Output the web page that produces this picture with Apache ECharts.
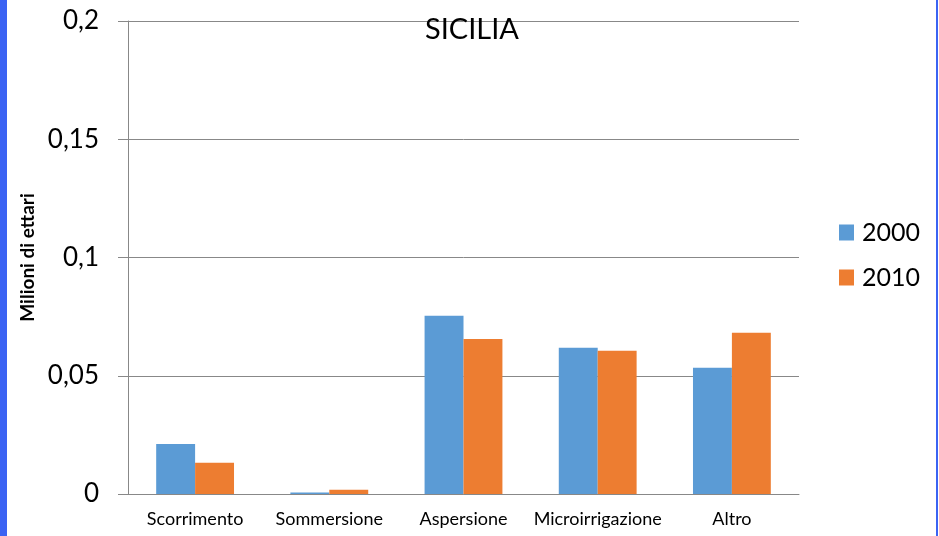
<!DOCTYPE html>
<html>
<head>
<meta charset="utf-8">
<script src="https://cdn.jsdelivr.net/npm/echarts@6/dist/echarts.min.js"></script>
<style>
html,body{margin:0;padding:0;background:#fff;}
#chart{width:939px;height:536px;}
</style>
</head>
<body>
<div id="chart"></div>
<script>
const categories = ['Scorrimento', 'Sommersione', 'Aspersione', 'Microirrigazione', 'Altro'];
const series2000 = [0.0211, 0.0006, 0.0754, 0.0618, 0.0534];
const series2010 = [0.0132, 0.0018, 0.0655, 0.0606, 0.0682];
const seriesNames = ['2000', '2010'];
const yTickLabels = ['0', '0,05', '0,1', '0,15', '0,2'];
const chartTitle = 'SICILIA';
const yAxisTitle = 'Milioni di ettari';

const FONT = 'Lato, "Open Sans", sans-serif';
const chart = echarts.init(document.getElementById('chart'));
chart.setOption({
  animation: false,
  backgroundColor: '#ffffff',
  title: {
    text: chartTitle,
    left: 425, top: 15,
    padding: 0,
    textStyle: {fontFamily: FONT, fontSize: 29, fontWeight: 'normal', color: '#000'}
  },
  graphic: [
    {type: 'rect', left: 0, top: 0, shape: {width: 7, height: 536}, style: {fill: '#3b63f3'}, silent: true},
    {type: 'rect', left: 936, top: 0, shape: {width: 2, height: 536}, style: {fill: '#3b63f3'}, silent: true}
  ],
  legend: {
    orient: 'vertical',
    left: 839, top: 220,
    padding: 0,
    itemWidth: 15, itemHeight: 16,
    itemGap: 20,
    icon: 'rect',
    data: seriesNames,
    textStyle: {fontFamily: FONT, fontSize: 25, color: '#000', padding: [0, 0, 0, 3]}
  },
  grid: {left: 128, right: 140, top: 21, bottom: 42, containLabel: false},
  xAxis: {
    type: 'category',
    data: categories,
    axisLine: {lineStyle: {color: '#888888', width: 1}},
    axisTick: {show: false},
    axisLabel: {fontFamily: FONT, fontSize: 18, color: '#000', margin: 16, interval: 0, hideOverlap: false}
  },
  yAxis: {
    type: 'value',
    min: 0, max: 0.2, interval: 0.05,
    name: yAxisTitle,
    nameLocation: 'middle',
    nameGap: 85,
    nameRotate: 90,
    nameTextStyle: {fontFamily: FONT, fontSize: 19, fontWeight: 'bold', color: '#000'},
    axisLine: {show: true, lineStyle: {color: '#888888', width: 1}},
    axisTick: {show: true, length: 10, lineStyle: {color: '#888888'}},
    splitLine: {lineStyle: {color: '#888888', width: 1}},
    axisLabel: {
      fontFamily: FONT, fontSize: 26, color: '#000', margin: 29,
      formatter: function (v) { return yTickLabels[Math.round(v / 0.05)]; }
    }
  },
  series: [
    {name: seriesNames[0], type: 'bar', data: series2000, itemStyle: {color: '#5b9bd5'}, barGap: '0%', barCategoryGap: '42%'},
    {name: seriesNames[1], type: 'bar', data: series2010, itemStyle: {color: '#ed7d31'}, barGap: '0%', barCategoryGap: '42%'}
  ]
});
</script>
</body>
</html>
